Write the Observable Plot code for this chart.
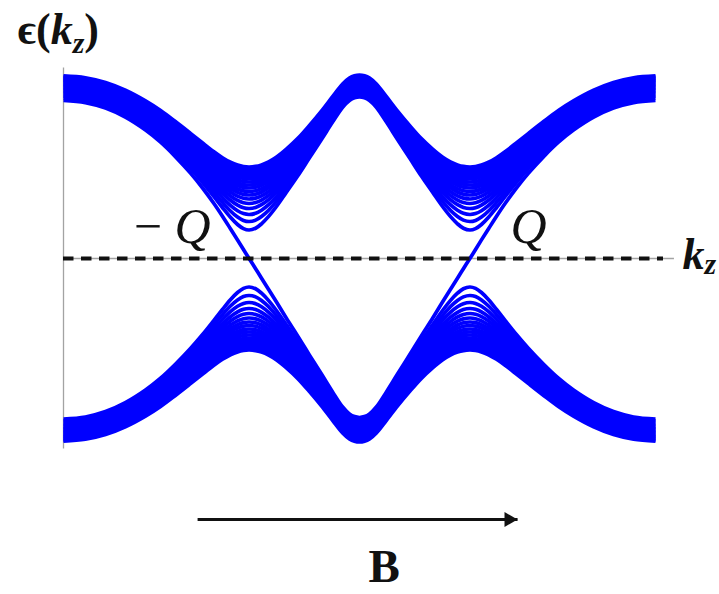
<!DOCTYPE html>
<html>
<head>
<meta charset="utf-8">
<script src="https://cdn.jsdelivr.net/npm/d3@7"></script>
<script src="https://cdn.jsdelivr.net/npm/@observablehq/plot@0.6"></script>
<style>
  html, body { margin: 0; padding: 0; background: #fff; }
  #chart svg { display: block; }
</style>
</head>
<body>
<div id="chart"></div>
<script>
// Landau levels of a Weyl semimetal with the field B along z.
// Momentum along the field, in units of pi/a.
const kz = [-1, -0.926, -0.858, -0.791, -0.723, -0.672, -0.622, -0.571, -0.53, -0.493,
  -0.463, -0.436, -0.412, -0.392, -0.373, -0.351, -0.331, -0.307, -0.28, -0.247,
  -0.209, -0.169, -0.128, -0.091, -0.057, -0.034, -0.017, 0,
  0.017, 0.034, 0.057, 0.091, 0.128, 0.169, 0.209, 0.247, 0.28, 0.307,
  0.331, 0.351, 0.373, 0.392, 0.412, 0.436, 0.463, 0.493, 0.53, 0.571,
  0.622, 0.672, 0.723, 0.791, 0.858, 0.926, 1];

// n = 0 (chiral) level: positive outside the nodes, negative between them.
const zeroLevel = [158, 155.9, 150.4, 141.3, 128.4, 116.3, 101.9, 85.4, 70.5, 55.5,
  42.3, 29.8, 18.6, 9, 0, -10.2, -19.8, -31, -43.8, -59.8,
  -77.4, -96.6, -115.8, -133.4, -148.5, -155.4, -158.1, -159,
  -158.1, -155.4, -148.5, -133.4, -115.8, -96.6, -77.4, -59.8, -43.8, -31,
  -19.8, -10.2, 0, 9, 18.6, 29.8, 42.3, 55.5, 70.5, 85.4,
  101.9, 116.3, 128.4, 141.3, 150.4, 155.9, 158];

// Energy of the n = 1, 2, ... levels right at the Weyl nodes.
const nodeGap = [28.5, 37, 44, 50, 55, 59.5, 63.5, 67, 70.5, 73.5, 76.5, 79.5, 82, 84.5, 87, 89.5, 91.5];

// Weyl node momentum (±Q) and text labels.
const weylQ = 0.373;
const nodeLabels = ["\u2212\u2009Q", "Q"];
const energyLabel = "\u03f5(kz)";
const momentumLabel = "kz";
const fieldLabel = "B";

// Field direction arrow, drawn under the spectrum.
const field = {from: -0.547, to: 0.534, energy: -261};
const fieldLabelAt = 0.083;
const axisEnd = 1.064;
const dashEnd = 1.027;

// Each level n >= 1 pairs an electron branch with a hole branch.
const levels = zeroLevel.map((e, i) => ({kz: kz[i], energy: e, level: "0"}));
nodeGap.forEach((gap, j) => {
  kz.forEach((k, i) => {
    const e = Math.hypot(zeroLevel[i], gap);
    levels.push({kz: k, energy: e, level: `+${j + 1}`});
    levels.push({kz: k, energy: -e, level: `-${j + 1}`});
  });
});
const reach = d3.max(levels, d => Math.abs(d.energy)) + 7;

const serif = "'Liberation Serif', 'DejaVu Serif', serif";

const chart = Plot.plot({
  width: 719,
  height: 594,
  marginLeft: 63,
  marginRight: 64,
  marginTop: 0,
  marginBottom: 0,
  style: {background: "white", fontFamily: serif},
  x: {domain: [-1, 1], axis: null},
  y: {domain: [-336, 258], axis: null},
  marks: [
    Plot.ruleX([-1], {y1: -reach, y2: reach, stroke: "#a3a3a3", strokeWidth: 1.3}),
    Plot.ruleY([0], {x1: -1, x2: axisEnd, stroke: "#a3a3a3", strokeWidth: 1.3}),
    Plot.line(levels, {
      x: "kz", y: "energy", z: "level",
      stroke: "#0000ff", strokeWidth: 3.7,
      curve: "catmull-rom", strokeLinecap: "butt"
    }),
    Plot.ruleY([0], {x1: -1, x2: dashEnd, stroke: "#111", strokeWidth: 4, strokeDasharray: "10.5,7.5"}),
    Plot.text([nodeLabels[0]], {
      x: () => -weylQ, y: () => 0, dx: -38.6, dy: -51,
      textAnchor: "end", lineAnchor: "top",
      fontSize: 50, fontStyle: "italic", fill: "#111"
    }),
    Plot.text([nodeLabels[1]], {
      x: () => weylQ, y: () => 0, dx: 40.6, dy: -51,
      textAnchor: "start", lineAnchor: "top",
      fontSize: 50, fontStyle: "italic", fill: "#111"
    }),
    Plot.text([momentumLabel], {
      x: () => 1, y: () => 0, dx: 27, dy: -21,
      textAnchor: "start", lineAnchor: "top",
      fontSize: 44, fontWeight: "bold", fontStyle: "italic", fill: "#111"
    }),
    Plot.text([energyLabel], {
      frameAnchor: "top-left", dx: -46, dy: 12,
      textAnchor: "start", lineAnchor: "top",
      fontSize: 44, fontWeight: "bold", fill: "#111"
    }),
    Plot.link([field], {
      x1: "from", x2: "to", y1: "energy", y2: "energy",
      stroke: "#111", strokeWidth: 3
    }),
    Plot.dot([field], {
      x: "to", y: "energy", symbol: "triangle", r: 5.6, rotate: 90,
      dx: -8.7, fill: "#111", stroke: null
    }),
    Plot.text([fieldLabel], {
      x: () => fieldLabelAt, y: () => field.energy, dy: 29.6,
      textAnchor: "middle", lineAnchor: "top",
      fontSize: 47, fontWeight: "bold", fill: "#111"
    })
  ]
});

// Typeset the subscripted labels with tspans.
function typeset(label, parts) {
  d3.select(chart).selectAll("text")
    .filter(function () { return this.textContent === label; })
    .each(function () {
      const t = d3.select(this);
      t.text(null);
      for (const p of parts) {
        const s = t.append("tspan").text(p.text);
        if (p.italic) s.attr("font-style", "italic");
        if (p.size) s.attr("font-size", p.size);
        if (p.dy) s.attr("dy", p.dy);
      }
    });
}
typeset(energyLabel, [
  {text: "\u03f5("},
  {text: "k", italic: true},
  {text: "z", italic: true, size: 30, dy: 9},
  {text: ")", dy: -9}
]);
typeset(momentumLabel, [
  {text: "k"},
  {text: "z", size: 30, dy: 5}
]);

document.getElementById("chart").append(chart);
</script>
</body>
</html>
